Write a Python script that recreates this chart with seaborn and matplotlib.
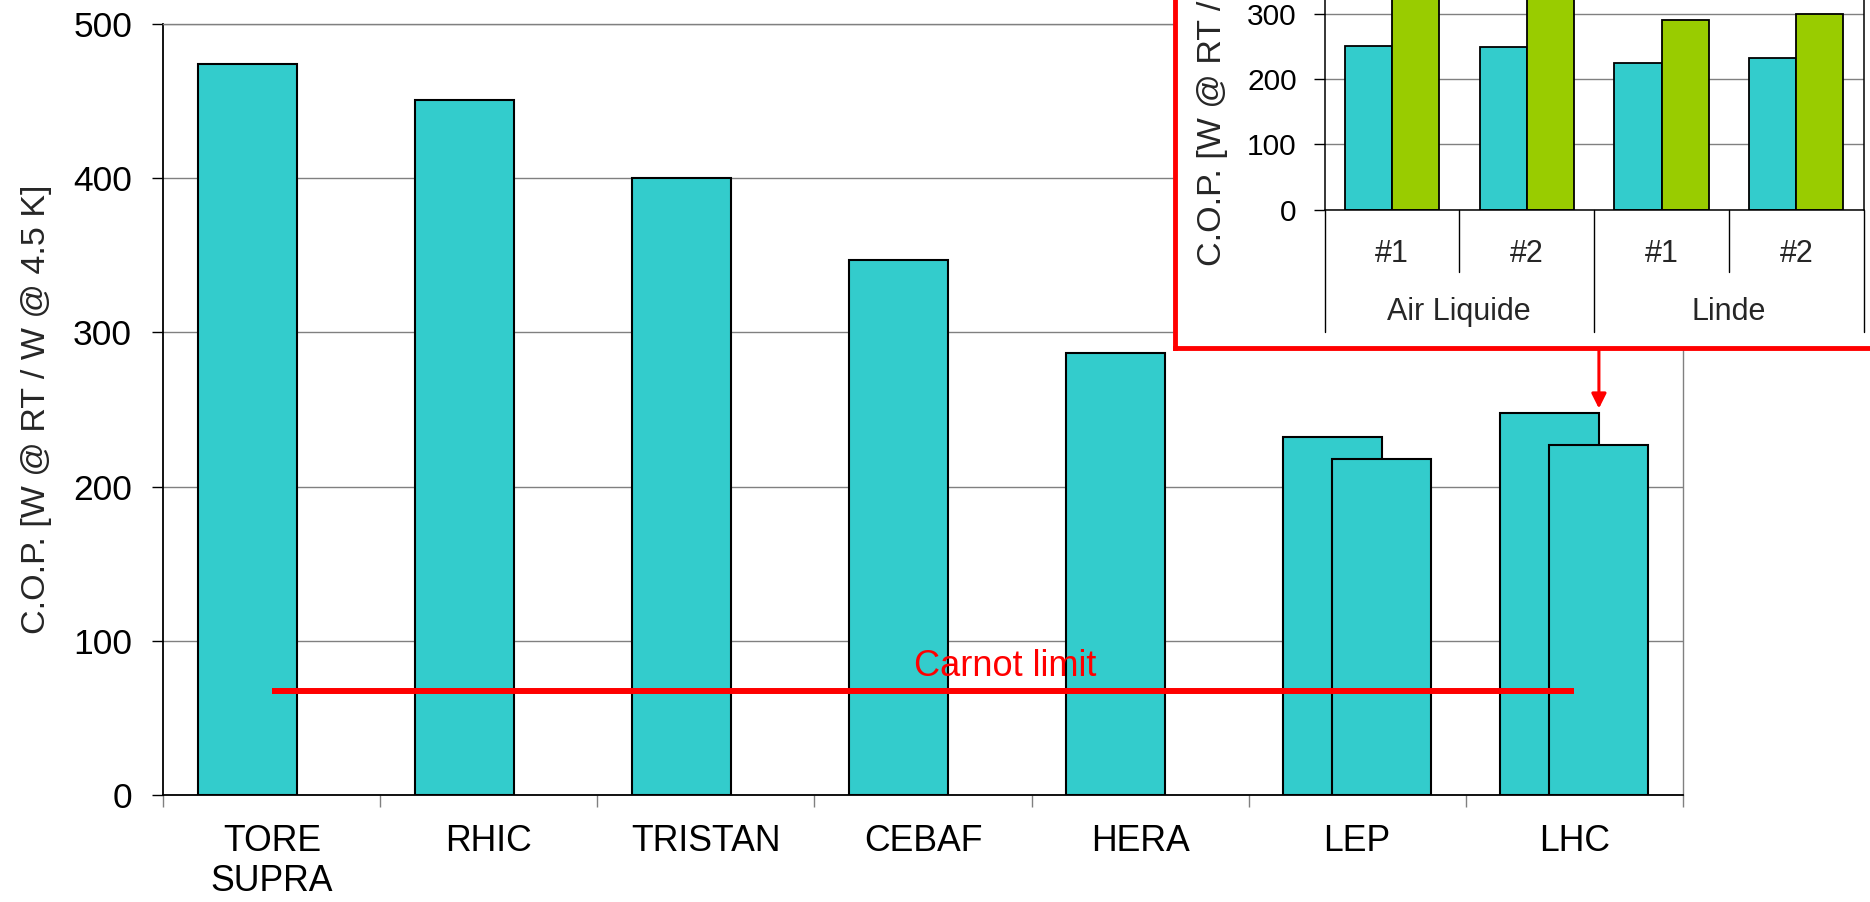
import matplotlib
matplotlib.use("Agg")
import matplotlib.pyplot as plt
import matplotlib.transforms as mtransforms
import numpy as np
import pandas as pd
import seaborn as sns

# ---- data -------------------------------------------------------------
facilities = ["TORE\nSUPRA", "RHIC", "TRISTAN", "CEBAF", "HERA", "LEP", "LHC"]
cop_first = [474, 451, 400, 347, 287, 232, 248]
second_facilities = ["LEP", "LHC"]
cop_second = [218, 227]
carnot_limit = 67.5
y_ticks = [0, 100, 200, 300, 400, 500]

inset_units = ["Air Liquide #1", "Air Liquide #2", "Linde #1", "Linde #2"]
inset_unit_labels = ["#1", "#2", "#1", "#2"]
inset_vendors = ["Air Liquide", "Linde"]
inset_cop_a = [250, 249, 224, 233]
inset_cop_b = [350, 350, 291, 300]
inset_y_ticks = [0, 100, 200, 300, 400]

CYAN = "#33CCCC"
GREEN = "#99CC00"
RED = "#FF0000"
GRID = "#808080"
YLABEL = "C.O.P. [W @ RT / W @ 4.5 K]"

sns.set_theme(style="white")
plt.rcParams["font.family"] = ["Liberation Sans", "DejaVu Sans"]

W, H = 1870, 902
fig = plt.figure(figsize=(W / 100, H / 100), dpi=100)
fig.patch.set_facecolor("white")


def px_box(left, top, right, bottom):
    return [left / W, 1 - bottom / H, (right - left) / W, (bottom - top) / H]


# ---- main chart -------------------------------------------------------
ax = fig.add_axes(px_box(163.3, 24.0, 1682.7, 795.25))
offset = 0.114
bar_w = 0.456
pos = np.arange(len(facilities))
first = pd.DataFrame({"x": pos - offset, "cop": cop_first})
idx = [facilities.index(f) for f in second_facilities]
second = pd.DataFrame({"x": pos[idx] + offset, "cop": cop_second})
for df in (first, second):
    sns.barplot(data=df, x="x", y="cop", orient="x", native_scale=True,
                width=bar_w, color=CYAN, saturation=1, edgecolor="black",
                linewidth=1.5, errorbar=None, ax=ax)

ax.set_xlim(-0.5, len(facilities) - 0.5)
ax.set_ylim(0, 500)
ax.set_yticks(y_ticks)
ax.yaxis.grid(True, color=GRID, lw=1.0)
ax.xaxis.grid(False)
ax.set_axisbelow(True)
ax.set_xticks(pos, facilities)
ax.set_xticks(np.arange(len(facilities) + 1) - 0.5, minor=True)
ax.tick_params(axis="x", which="major", bottom=True, length=0, pad=20.5,
               labelsize=25.7, labelcolor="black")
ax.tick_params(axis="x", which="minor", bottom=True, length=8.6, width=1,
               color=GRID, direction="out")
ax.tick_params(axis="y", which="major", left=True, length=8, width=1,
               color="black", direction="out", pad=14.5, labelsize=25.5,
               labelcolor="black")
ax.set_xlabel("")
ax.set_ylabel("")
for s in ("left", "bottom"):
    ax.spines[s].set_color("black")
    ax.spines[s].set_linewidth(1.3)
for s in ("right", "top"):
    ax.spines[s].set_color(GRID)
    ax.spines[s].set_linewidth(1.0)

ax.plot([pos[0], pos[-1]], [carnot_limit, carnot_limit], color=RED, lw=4.3,
        solid_capstyle="butt", zorder=4)
ax.text(3.38, 77.3, "Carnot limit", color=RED, fontsize=26, ha="center",
        va="baseline", zorder=5)

fig.text(37 / W, 1 - 409.5 / H, YLABEL, rotation=90, ha="center",
         va="center", fontsize=24.5)

# arrow pointing from the inset down to LHC
lhc = facilities.index("LHC")
tip_x = lhc - offset + bar_w / 2
ax.annotate("", xy=(tip_x, cop_first[lhc]), xytext=(tip_x, 1 - 348 / H),
            xycoords="data", textcoords=("data", "figure fraction"),
            arrowprops=dict(arrowstyle="-|>", color=RED, lw=2.2,
                            mutation_scale=22, shrinkA=0, shrinkB=3),
            annotation_clip=False, zorder=6)

# ---- inset frame ------------------------------------------------------
box = fig.add_axes(px_box(1175, -40, 1920, 348))
box.set_facecolor("white")
box.set_xticks([])
box.set_yticks([])
for s in box.spines.values():
    s.set_color(RED)
    s.set_linewidth(3.5)

# ---- inset chart ------------------------------------------------------
in_top, in_bottom = 209.7 - 261.2, 209.7
inset = fig.add_axes(px_box(1324.5, in_top, 1863.7, in_bottom))
inset.set_facecolor("none")
df_in = pd.DataFrame({
    "unit": inset_units * 2,
    "cop": inset_cop_a + inset_cop_b,
    "series": ["series_1"] * 4 + ["series_2"] * 4,
})
sns.barplot(data=df_in, x="unit", y="cop", hue="series",
            palette=[CYAN, GREEN], saturation=1, width=0.7,
            edgecolor="black", linewidth=1.3, errorbar=None, legend=False,
            ax=inset)
inset.set_xlim(-0.5, len(inset_units) - 0.5)
inset.set_ylim(0, 400)
inset.set_yticks(inset_y_ticks)
inset.yaxis.grid(True, color=GRID, lw=1.0)
inset.xaxis.grid(False)
inset.set_axisbelow(True)
inset.set_xticks(range(len(inset_units)), [""] * len(inset_units))
inset.tick_params(axis="x", length=0)
inset.tick_params(axis="y", left=True, length=8, width=1, color="black",
                  direction="out", pad=12, labelsize=21.5, labelcolor="black")
inset.set_xlabel("")
inset.set_ylabel("")
for s in ("left", "bottom", "right"):
    inset.spines[s].set_color("black")
    inset.spines[s].set_linewidth(1.1)
inset.spines["top"].set_visible(False)

in_h = in_bottom - in_top
tr = mtransforms.blended_transform_factory(inset.transData, inset.transAxes)
for i, lab in enumerate(inset_unit_labels):
    inset.text(i, -44.5 / in_h, lab, transform=tr, ha="center", va="center",
               fontsize=22)
for k, vendor in enumerate(inset_vendors):
    inset.text(2 * k + 0.5, -102 / in_h, vendor, transform=tr, ha="center",
               va="center", fontsize=22)
for xb in np.arange(0, len(inset_units) + 1, 2) - 0.5:
    inset.plot([xb, xb], [0, -122 / in_h], transform=tr, color="black",
               lw=1.0, clip_on=False)
for xb in np.arange(1, len(inset_units), 2) - 0.5:
    inset.plot([xb, xb], [0, -62 / in_h], transform=tr, color="black",
               lw=1.0, clip_on=False)

fig.text(1213 / W, 1 - 266 / H, YLABEL, rotation=90, ha="center",
         va="bottom", fontsize=24.5)

fig.savefig("out.png", dpi=100, facecolor="white")
